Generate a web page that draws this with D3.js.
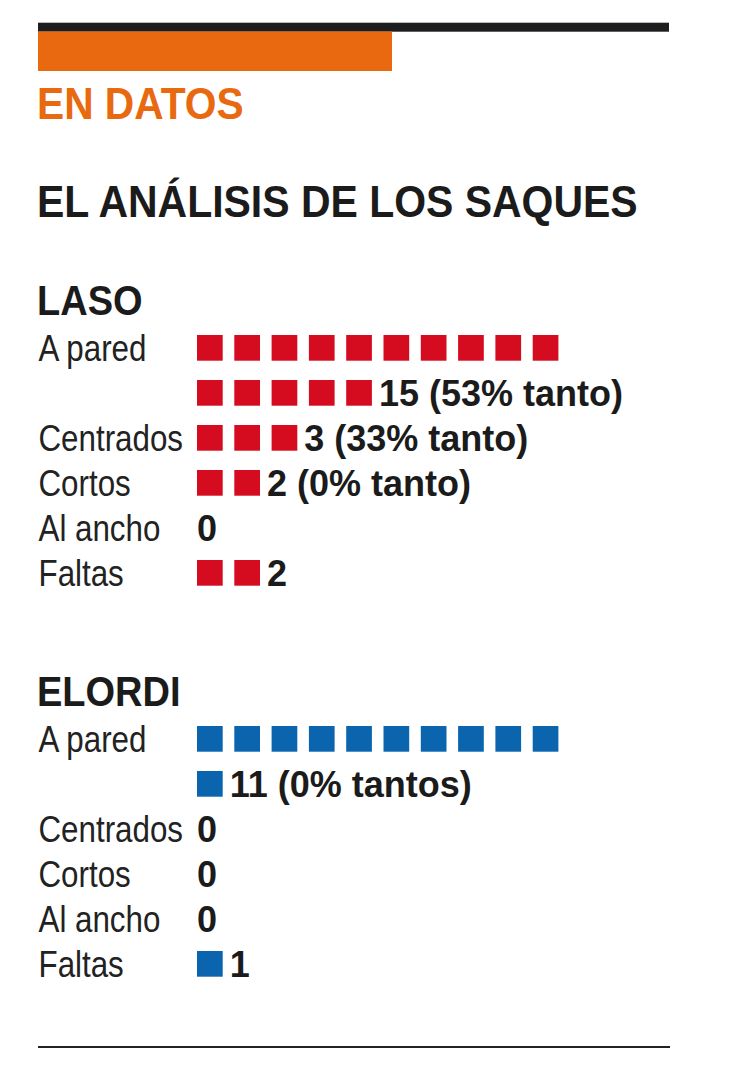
<!DOCTYPE html>
<html><head><meta charset="utf-8">
<script src="https://cdn.jsdelivr.net/npm/d3@7"></script>
<style>body{margin:0;background:#fff}svg{display:block}</style>
</head><body><svg id="c" width="748" height="1080"></svg>
<script>
// ---- data ----
const kicker = "EN DATOS";
const title = "EL ANÁLISIS DE LOS SAQUES";
const categories = ["A pared", "Centrados", "Cortos", "Al ancho", "Faltas"];
const players = ["LASO", "ELORDI"];
const lasoValues = [15, 3, 2, 0, 2];
const elordiValues = [11, 0, 0, 0, 1];
const lasoNotes = ["15 (53% tanto)", "3 (33% tanto)", "2 (0% tanto)", "0", "2"];
const elordiNotes = ["11 (0% tantos)", "0", "0", "0", "1"];
const perLine = 10;

const playerValues = [lasoValues, elordiValues];
const playerNotes = [lasoNotes, elordiNotes];
const playerColors = ["#d50b1f", "#0a64ae"];

// ---- layout ----
const svg = d3.select("#c");
const left = 38, right = 669;
const ink = "#1b1b1b";
const sans = "'Liberation Sans', Arial, sans-serif";

// header bars
svg.append("rect").attr("x", left).attr("y", 22.7).attr("width", right - left).attr("height", 9).attr("fill", "#1d1d1f");
svg.append("rect").attr("x", left).attr("y", 31.5).attr("width", 392 - left).attr("height", 39.5).attr("fill", "#e8690f");

function scaledText(sel, x, y, txt, size, color, weight, sx) {
  return sel.append("text")
    .attr("transform", `translate(${x},${y}) scale(${sx},1)`)
    .attr("font-family", sans).attr("font-weight", weight)
    .attr("font-size", size).attr("fill", color).text(txt);
}
scaledText(svg, left - 1, 119, kicker, 45, "#e8690f", 700, 0.905);
scaledText(svg, left - 1, 217, title, 45, ink, 700, 0.91);

const pitch = 37.3, sq = 25.7, rowGap = 45;
const x = d3.scaleLinear().domain([0, perLine]).range([197, 197 + pitch * perLine]);

players.forEach((p, pi) => {
  const top = 284 + pi * 391;
  scaledText(svg, left - 1, top + 30.5, p, 42, ink, 700, 0.905);
  const y = d3.scaleLinear().domain([0, 1]).range([top + 51, top + 51 + rowGap]);
  const vals = playerValues[pi], notes = playerNotes[pi];
  let line = 0;
  const g = svg.append("g");
  categories.forEach((cat, ci) => {
    const v = vals[ci];
    const nLines = Math.max(1, Math.ceil(v / perLine));
    // label (narrow light style)
    scaledText(g, left + 0.5, y(line) + 25.5, cat, 36, "#222", 400, 0.87);
    // squares
    const cells = d3.range(v).map(k => ({ line: line + Math.floor(k / perLine), slot: k % perLine }));
    g.selectAll(null).data(cells).join("rect")
      .attr("x", d => x(d.slot)).attr("y", d => y(d.line))
      .attr("width", sq).attr("height", sq).attr("fill", playerColors[pi]);
    // note
    const lastLine = line + nLines - 1;
    const lastCount = v === 0 ? 0 : v - (nLines - 1) * perLine;
    const nx = v === 0 ? x(0) : x(lastCount - 1) + sq + 7;
    g.append("text").attr("x", nx).attr("y", y(lastLine) + 25.7)
      .attr("font-family", sans).attr("font-weight", 700).attr("font-size", 36).attr("fill", ink)
      .text(notes[ci]);
    line += nLines;
  });
});

// bottom rule
svg.append("line").attr("x1", left).attr("x2", right + 1).attr("y1", 1047).attr("y2", 1047)
  .attr("stroke", "#222").attr("stroke-width", 2);
</script></body></html>
